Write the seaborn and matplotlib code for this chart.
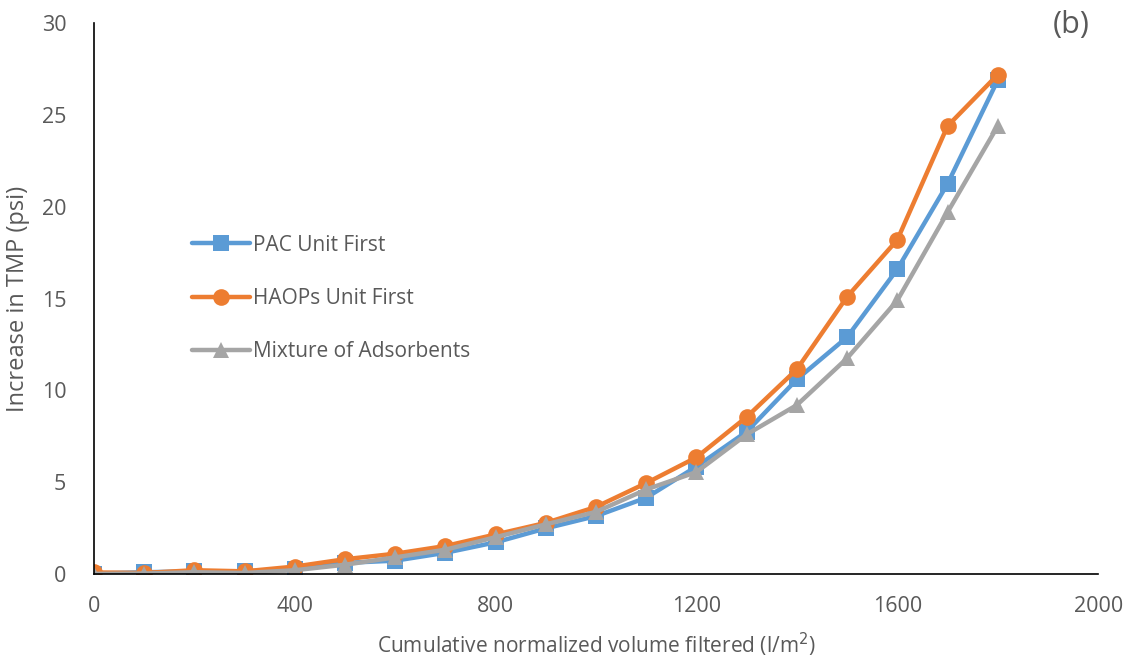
import pandas as pd
import matplotlib
matplotlib.use("Agg")
import matplotlib.pyplot as plt
import seaborn as sns

# Data
volume = [0, 100, 200, 300, 400, 500, 600, 700, 800, 900,
          1000, 1100, 1200, 1300, 1400, 1500, 1600, 1700, 1800]
pac_first = [0.02, 0.09, 0.14, 0.14, 0.27, 0.6, 0.72, 1.15, 1.72, 2.48,
             3.15, 4.15, 5.85, 7.75, 10.6, 12.9, 16.6, 21.25, 26.9]
haops_first = [0.08, 0.05, 0.2, 0.14, 0.4, 0.8, 1.1, 1.52, 2.15, 2.78,
               3.65, 4.95, 6.35, 8.55, 11.15, 15.1, 18.2, 24.4, 27.2]
mixture = [0.0, 0.02, 0.09, 0.05, 0.2, 0.5, 0.9, 1.32, 2.0, 2.7,
           3.38, 4.6, 5.55, 7.6, 9.2, 11.75, 14.9, 19.7, 24.4]
series_names = ["PAC Unit First", "HAOPs Unit First", "Mixture of Adsorbents"]
x_ticks = [0, 400, 800, 1200, 1600, 2000]
y_ticks = [0, 5, 10, 15, 20, 25, 30]

df = pd.DataFrame({
    "volume": volume * 3,
    "tmp": pac_first + haops_first + mixture,
    "series": [series_names[0]] * len(volume) + [series_names[1]] * len(volume)
              + [series_names[2]] * len(volume),
})

sns.set_style("white")
plt.rcParams['font.family'] = ['Open Sans', 'DejaVu Sans']
text_col = "#595959"

fig = plt.figure(figsize=(11.24, 6.65), dpi=100)
ax = fig.add_axes([0.0836, 0.137, 0.8934, 0.828])

palette = {series_names[0]: "#5B9BD5", series_names[1]: "#ED7D31", series_names[2]: "#A5A5A5"}
markers = {series_names[0]: "s", series_names[1]: "o", series_names[2]: "^"}

sns.lineplot(data=df, x="volume", y="tmp", hue="series", style="series",
             palette=palette, markers=markers, dashes=False, linewidth=3.2,
             markersize=12, markeredgewidth=0, ax=ax, sort=False)

ax.set_xlim(0, 2000)
ax.set_ylim(0, 30)
ax.set_xticks(x_ticks)
ax.set_yticks(y_ticks)
ax.tick_params(direction="in", length=5, width=1.2, colors="black",
               labelcolor=text_col, labelsize=15.5)
ax.tick_params(axis="x", pad=16)
ax.tick_params(axis="y", pad=20)
for side in ["top", "right"]:
    ax.spines[side].set_visible(False)
for side in ["left", "bottom"]:
    ax.spines[side].set_color("black")
    ax.spines[side].set_linewidth(1.2)
ax.grid(False)

ax.set_xlabel("Cumulative normalized volume filtered (l/m$^2$)", fontsize=15,
              color=text_col, labelpad=10)
ax.set_ylabel("Increase in TMP (psi)", fontsize=17, color=text_col, labelpad=8)

leg = ax.legend(loc="upper left", bbox_to_anchor=(0.089, 0.631), frameon=False,
                fontsize=15, labelspacing=1.55, handlelength=2.8,
                handletextpad=0.15, borderaxespad=0)
for t in leg.get_texts():
    t.set_color(text_col)

fig.text(0.953, 0.963, "(b)", fontsize=22, color=text_col, ha="center", va="center")

plt.savefig("out.png", dpi=100)
